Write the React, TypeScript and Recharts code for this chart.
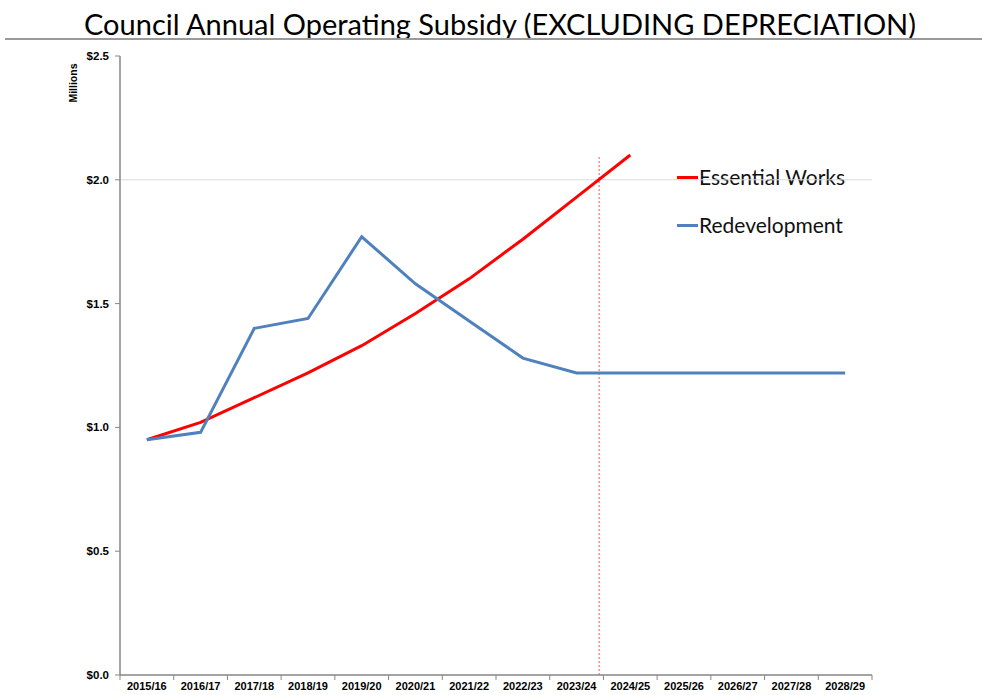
import { LineChart, Line, XAxis, YAxis, ReferenceLine } from "recharts";

const categories = [
  "2015/16", "2016/17", "2017/18", "2018/19", "2019/20", "2020/21", "2021/22",
  "2022/23", "2023/24", "2024/25", "2025/26", "2026/27", "2027/28", "2028/29",
];
const essentialWorks = [0.95, 1.02, 1.12, 1.22, 1.33, 1.46, 1.6, 1.76, 1.93, 2.1, null, null, null, null];
const redevelopment = [0.95, 0.98, 1.4, 1.44, 1.77, 1.58, 1.43, 1.28, 1.22, 1.22, 1.22, 1.22, 1.22, 1.22];
const yTicks = [0, 0.5, 1, 1.5, 2, 2.5];
const actualsEnd = 8.42;

const data = categories.map((c, i) => ({
  i,
  name: c,
  essential: essentialWorks[i],
  redev: redevelopment[i],
}));

// labels on whole numbers, tick marks on the half-steps between categories
const xTicks: number[] = [];
for (let k = -0.5; k <= 13.5; k += 0.5) xTicks.push(k);

const XTick = (props: any) => {
  const { x, y, payload } = props;
  const v = payload.value;
  if (Number.isInteger(v)) {
    return (
      <text
        x={x}
        y={y + 15}
        textAnchor="middle"
        fontFamily="Liberation Sans, Arial, sans-serif"
        fontWeight="bold"
        fontSize={11}
        fill="#000"
      >
        {categories[v]}
      </text>
    );
  }
  return <line x1={x} x2={x} y1={y} y2={y + 5} stroke="#868686" strokeWidth={1} />;
};

const legendItems = [
  { label: "Essential Works", color: "#FF0000", top: 165 },
  { label: "Redevelopment", color: "#4F81BD", top: 213 },
];

export default function App() {
  return (
    <div
      style={{
        position: "absolute",
        left: 0,
        top: 0,
        width: 982,
        height: 695,
        background: "#fff",
        overflow: "hidden",
      }}
    >
      <div
        style={{
          position: "absolute",
          left: 0,
          top: 7,
          width: 1000,
          textAlign: "center",
          fontFamily: "Lato, 'Open Sans', sans-serif",
          fontSize: 29,
          lineHeight: "34px",
          color: "#000",
          whiteSpace: "nowrap",
        }}
      >
        Council Annual Operating Subsidy (EXCLUDING DEPRECIATION)
      </div>
      <div
        style={{
          position: "absolute",
          left: 5,
          top: 38,
          width: 977,
          height: 2,
          background: "#9a9a9a",
        }}
      />
      <div
        style={{
          position: "absolute",
          left: 48,
          top: 77,
          width: 50,
          textAlign: "center",
          transform: "rotate(-90deg)",
          fontFamily: "Liberation Sans, Arial, sans-serif",
          fontWeight: "bold",
          fontSize: 10.5,
          lineHeight: "12px",
        }}
      >
        Millions
      </div>
      {legendItems.map((it) => (
        <div
          key={it.label}
          style={{
            position: "absolute",
            left: 677,
            top: it.top,
            display: "flex",
            alignItems: "center",
            fontFamily: "Lato, 'Open Sans', sans-serif",
            fontSize: 21,
            lineHeight: "24px",
            color: "#111",
          }}
        >
          <span
            style={{
              display: "inline-block",
              width: 21,
              height: 3,
              background: it.color,
              marginRight: 1,
            }}
          />
          {it.label}
        </div>
      ))}
      <LineChart
        width={982}
        height={695}
        data={data}
        margin={{ top: 56, right: 110, bottom: 0, left: 70 }}
        style={{ position: "absolute", left: 0, top: 0 }}
      >
        <ReferenceLine y={2} stroke="#d9d9d9" strokeWidth={1} />
        <ReferenceLine
          segment={[
            { x: actualsEnd, y: 0 },
            { x: actualsEnd, y: 2.1 },
          ]}
          stroke="#FF5050"
          strokeDasharray="2 2"
          strokeWidth={1}
        />
        <XAxis
          dataKey="i"
          type="number"
          domain={[-0.5, 13.5]}
          ticks={xTicks}
          interval={0}
          tick={<XTick />}
          tickLine={false}
          tickSize={0}
          tickMargin={0}
          axisLine={{ stroke: "#868686", strokeWidth: 1.5 }}
          height={20}
        />
        <YAxis
          domain={[0, 2.5]}
          ticks={yTicks}
          interval={0}
          width={50}
          tickFormatter={(v: number) => `$${v.toFixed(1)}`}
          tick={{
            fill: "#000",
            fontSize: 11.5,
            fontWeight: "bold",
            fontFamily: "Liberation Sans, Arial, sans-serif",
          }}
          tickSize={5}
          tickMargin={6}
          tickLine={{ stroke: "#868686" }}
          axisLine={{ stroke: "#868686", strokeWidth: 1.5 }}
        />
        <Line
          dataKey="essential"
          stroke="#FF0000"
          strokeWidth={3}
          dot={false}
          isAnimationActive={false}
          connectNulls={false}
        />
        <Line
          dataKey="redev"
          stroke="#4F81BD"
          strokeWidth={3}
          dot={false}
          isAnimationActive={false}
        />
      </LineChart>
    </div>
  );
}
